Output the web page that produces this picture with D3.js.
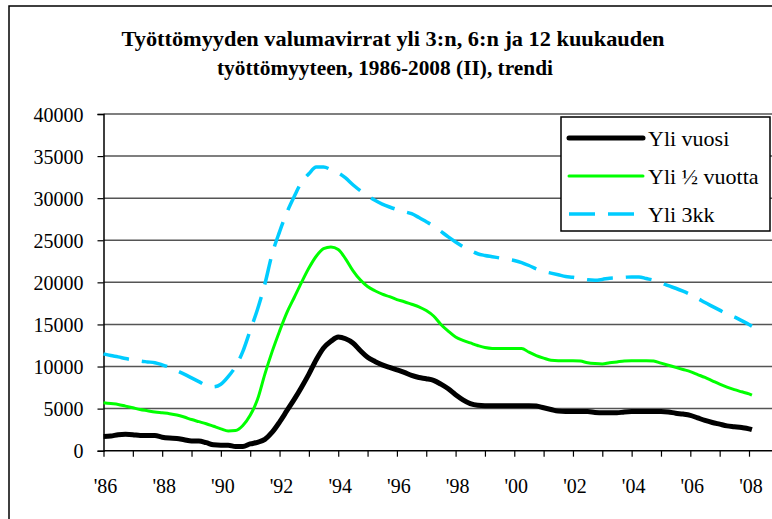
<!DOCTYPE html>
<html><head><meta charset="utf-8">
<script src="https://cdn.jsdelivr.net/npm/d3@7"></script>
<style>html,body{margin:0;padding:0;background:#fff;overflow:hidden}</style>
</head><body><svg id="c" width="772" height="519"></svg>
<script>
const titleLines = ["Työttömyyden valumavirrat yli 3:n, 6:n ja 12 kuukauden", "työttömyyteen, 1986-2008 (II), trendi"];
const seriesNames = ["Yli vuosi", "Yli ½ vuotta", "Yli 3kk"];
const yTicks = [0, 5000, 10000, 15000, 20000, 25000, 30000, 35000, 40000];
const tickYears = [1986,1987,1988,1989,1990,1991,1992,1993,1994,1995,1996,1997,1998,1999,2000,2001,2002,2003,2004,2005,2006,2007,2008,2009];
const labelYears = [1986,1988,1990,1992,1994,1996,1998,2000,2002,2004,2006,2008];
const labelTexts = ["'86","'88","'90","'92","'94","'96","'98","'00","'02","'04","'06","'08"];
// quarterly time points 1986 Q1 ... 2008, last = Feb 2008
const quarters = d3.range(0, 89).map(i => 1986 + i * 0.25).concat([2008.1]);

const yliVuosi = [
 1700,1750,1900,1950, 1900,1800,1800,1800, 1600,1500,1450,1300, 1150,1150,950,700,
 650,650,500,500, 800,1000,1350,2200, 3400,4750,6100,7550, 9100,10800,12200,13000,
 13500,13300,12800,11900, 11100,10600,10200,9900, 9600,9300,8950,8700, 8550,8350,7900,7350,
 6650,6050,5600,5400, 5350,5350,5350,5350, 5350,5350,5350,5300, 5100,4900,4700,4650,
 4650,4650,4650,4550, 4500,4500,4500,4600, 4650,4650,4650,4650, 4650,4600,4450,4350,
 4200,3900,3600,3350, 3150,2950,2850,2750, 2600,2500];
const yliPuoliVuotta = [
 5700,5600,5500,5300, 5100,4900,4750,4600, 4500,4400,4250,4000, 3700,3450,3200,2900,
 2600,2350,2400,3000, 4200,6100,9100,11800, 14200,16400,18200,20000, 21700,23100,24000,24200,
 23900,22800,21400,20300, 19500,19000,18600,18300, 17950,17700,17400,17100, 16650,16000,15000,14200,
 13500,13100,12800,12500, 12250,12150,12150,12150, 12150,12150,11700,11300, 11000,10750,10700,10700,
 10700,10650,10450,10350, 10300,10450,10550,10650, 10700,10700,10700,10650, 10400,10150,9900,9650,
 9400,9050,8700,8300, 7900,7550,7250,7000, 6750,6600];
const yli3kk = [
 11500,11300,11150,10950, 10800,10650,10550,10450, 10200,9900,9500,9100, 8650,8200,7750,7600,
 7900,8800,10000,11800, 14300,16800,19800,23400, 26000,28300,30200,31900, 32900,33700,33700,33400,
 33000,32400,31600,30900, 30300,29750,29300,28950, 28650,28400,28150,27700, 27200,26700,26050,25400,
 24800,24250,23800,23400, 23200,23050,22900,22750, 22600,22350,22000,21600, 21300,21100,20900,20700,
 20600,20450,20300,20250, 20350,20500,20550,20600, 20650,20650,20450,20250, 19950,19600,19300,18950,
 18550,18100,17600,17150, 16700,16250,15900,15450, 15000,14800];

const svg = d3.select("#c");
const serif = '"Liberation Serif"';

// outer chart border (only left/top visible)
svg.append("rect").attr("x", 9).attr("y", 6).attr("width", 800).attr("height", 600)
  .attr("fill", "#fff").attr("stroke", "#000").attr("stroke-width", 1.5);

const x = d3.scaleLinear().domain([1986, 2008]).range([103.5, 749]);
const y = d3.scaleLinear().domain([0, 40000]).range([450.7, 114]);

// gridlines
svg.append("g").selectAll("line").data(yTicks.filter(d => d > 0)).join("line")
  .attr("x1", 103.5).attr("x2", 800).attr("y1", d => y(d)).attr("y2", d => y(d))
  .attr("stroke", "#555").attr("stroke-width", 1.5);

// y axis
const yAxis = d3.axisLeft(y).tickValues(yTicks).tickSize(6).tickPadding(14).tickFormat(d3.format("d"));
const gy = svg.append("g").attr("transform", "translate(103.5,0)").call(yAxis);
gy.select(".domain").attr("stroke", "#000").attr("stroke-width", 1.5);
gy.selectAll(".tick line").attr("stroke", "#000").attr("stroke-width", 1.2);
gy.selectAll(".tick text").style("font-family", serif).style("font-size", "20px").attr("fill", "#000").attr("dy", "0.36em");

// x axis
const xAxis = d3.axisBottom(x).tickValues(tickYears).tickSize(6).tickFormat("");
const gx = svg.append("g").attr("transform", "translate(0,450.7)").call(xAxis);
gx.select(".domain").attr("d", "M103.5,0H800").attr("stroke", "#000").attr("stroke-width", 1.5);
gx.selectAll(".tick line").attr("stroke", "#000").attr("stroke-width", 1.2);
svg.append("g").selectAll("text").data(labelYears).join("text")
  .attr("x", d => x(d) + 2).attr("y", 493)
  .attr("text-anchor", "middle").style("font-family", serif).style("font-size", "20px").attr("fill", "#000")
  .text((d, i) => labelTexts[i]);

// series
const series = [
  {name: seriesNames[2], values: yli3kk, color: "#00CCFF", width: 3.5, dash: "26,13"},
  {name: seriesNames[1], values: yliPuoliVuotta, color: "#00FF00", width: 3, dash: null},
  {name: seriesNames[0], values: yliVuosi, color: "#000000", width: 5, dash: null}
];
const line = d3.line().x(d => x(d[0])).y(d => y(d[1])).curve(d3.curveMonotoneX);
series.forEach(s => {
  svg.append("path").datum(quarters.map((q, i) => [q, s.values[i]]))
    .attr("d", line).attr("fill", "none").attr("stroke", s.color)
    .attr("stroke-width", s.width).attr("stroke-linejoin", "round")
    .attr("stroke-dasharray", s.dash);
});

// title
svg.append("text").attr("x", 393).attr("y", 46).attr("text-anchor", "middle")
  .style("font-family", serif).style("font-weight", "bold").style("font-size", "22px")
  .attr("textLength", 543).attr("lengthAdjust", "spacingAndGlyphs").text(titleLines[0]);
svg.append("text").attr("x", 385).attr("y", 75).attr("text-anchor", "middle")
  .style("font-family", serif).style("font-weight", "bold").style("font-size", "22px")
  .attr("textLength", 336).attr("lengthAdjust", "spacingAndGlyphs").text(titleLines[1]);

// legend
const lg = svg.append("g");
lg.append("rect").attr("x", 561).attr("y", 117).attr("width", 209).attr("height", 114)
  .attr("fill", "#fff").attr("stroke", "#000").attr("stroke-width", 1.5);
const legendItems = [series[2], series[1], series[0]];
legendItems.forEach((s, i) => {
  const by = 146 + i * 38;
  lg.append("line").attr("x1", 569).attr("x2", 643).attr("y1", by - 8).attr("y2", by - 8)
    .attr("stroke", s.color).attr("stroke-width", s.width).attr("stroke-dasharray", s.dash)
    .attr("stroke-linecap", s.dash ? "butt" : "round");
  lg.append("text").attr("x", 648).attr("y", by).style("font-family", serif).style("font-size", "22px")
    .attr("fill", "#000").text(s.name);
});
</script></body></html>
